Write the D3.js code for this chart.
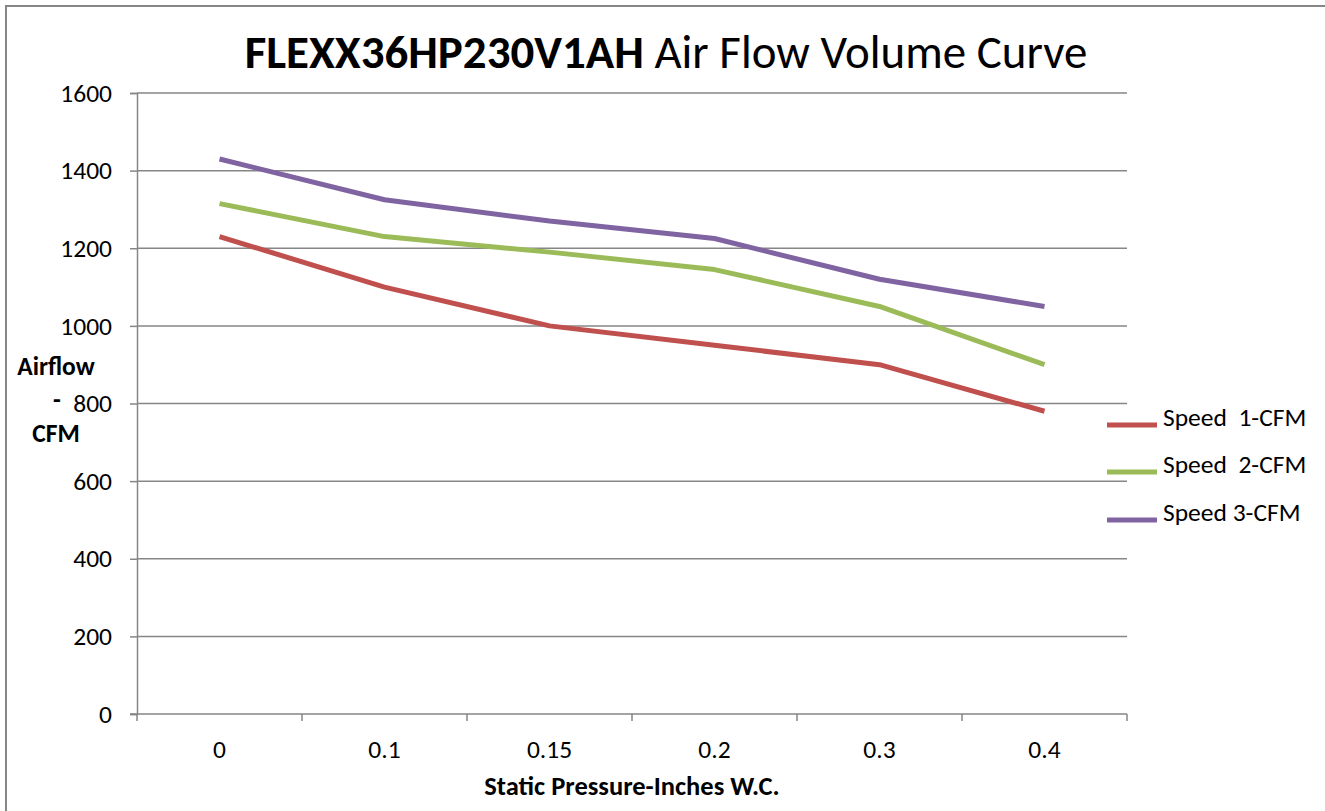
<!DOCTYPE html>
<html><head><meta charset="utf-8">
<script src="https://cdn.jsdelivr.net/npm/d3@7"></script>
<style>body{margin:0;background:#fff}svg{display:block}text{font-family:Calibri,Carlito,"Open Sans",sans-serif}</style>
</head><body><svg id="c" width="1325" height="811"></svg>
<script>
const categories = ["0", "0.1", "0.15", "0.2", "0.3", "0.4"];
const seriesNames = ["Speed  1-CFM", "Speed  2-CFM", "Speed 3-CFM"];
const speed1 = [1230, 1100, 1000, 950, 900, 780];
const speed2 = [1315, 1230, 1190, 1145, 1050, 900];
const speed3 = [1430, 1325, 1270, 1225, 1120, 1050];
const yTicks = [0, 200, 400, 600, 800, 1000, 1200, 1400, 1600];
const colors = ["#C0504D", "#9BBB59", "#8064A2"];

const FONT = "Calibri,Carlito,'Open Sans',sans-serif";
const FS = 25.5;
const svg = d3.select("#c");
const grid = "#868686";
// outer frame
svg.append("path").attr("d","M6,811 V6 H1325").attr("fill","none").attr("stroke",grid).attr("stroke-width",2);

const x = d3.scaleBand().domain(categories).range([137,1127]);
const y = d3.scaleLinear().domain([0,1600]).range([714,93]);

// gridlines
svg.append("g").selectAll("line").data(yTicks.filter(d=>d>0)).join("line")
  .attr("x1",137).attr("x2",1127).attr("y1",d=>y(d)).attr("y2",d=>y(d))
  .attr("stroke",grid).attr("stroke-width",1.5);

// y axis
const ya = svg.append("g").attr("transform","translate(137,0)")
  .call(d3.axisLeft(y).tickValues(yTicks).tickFormat(d3.format("d")).tickSize(7).tickPadding(18));
ya.select(".domain").attr("stroke",grid).attr("stroke-width",1.5);
ya.selectAll(".tick line").attr("stroke",grid).attr("stroke-width",1.5);
ya.selectAll(".tick text").attr("font-size",FS).attr("fill","#000").attr("font-family",FONT);

// x axis
const xa = svg.append("g").attr("transform","translate(0,714)")
  .call(d3.axisBottom(x).tickSize(0).tickPadding(26));
xa.select(".domain").remove();
xa.selectAll(".tick text").attr("font-size",FS).attr("fill","#000").attr("font-family",FONT);
svg.append("line").attr("x1",130).attr("x2",1127).attr("y1",714).attr("y2",714).attr("stroke",grid).attr("stroke-width",1.5);
svg.append("g").selectAll("line").data(categories.concat(["end"])).join("line")
  .attr("x1",(d,i)=>137+i*x.bandwidth()).attr("x2",(d,i)=>137+i*x.bandwidth())
  .attr("y1",714).attr("y2",721).attr("stroke",grid).attr("stroke-width",1.5);

// lines
const series = [speed1, speed2, speed3];
const line = d3.line().x((d,i)=>x(categories[i])+x.bandwidth()/2).y(d=>y(d));
series.forEach((s,k)=>{
  svg.append("path").datum(s).attr("d",line).attr("fill","none")
    .attr("stroke",colors[k]).attr("stroke-width",5).attr("stroke-linejoin","round");
});

// legend
const legY = [425, 472, 520];
seriesNames.forEach((n,k)=>{
  svg.append("line").attr("x1",1107).attr("x2",1157).attr("y1",legY[k]).attr("y2",legY[k])
    .attr("stroke",colors[k]).attr("stroke-width",5);
  svg.append("text").attr("x",1163).attr("y",legY[k]+1)
    .attr("font-size",FS).style("white-space","pre").text(n);
});

// title
const t = svg.append("text").attr("x",666).attr("y",68).attr("text-anchor","middle").attr("font-size",37);
t.append("tspan").attr("font-weight","bold").text("FLEXX36HP230V1AH");
t.append("tspan").text(" Air Flow Volume Curve");
const tw = t.node().getComputedTextLength();
t.attr("font-size", 37*843/tw);

// y axis title
const yl = svg.append("g").attr("font-weight","bold").attr("font-size",FS).attr("text-anchor","middle");
yl.append("text").attr("x",56).attr("y",375).text("Airflow");
yl.append("text").attr("x",57).attr("y",408).text("-");
yl.append("text").attr("x",56).attr("y",442).text("CFM");

// x axis title
svg.append("text").attr("x",632).attr("y",795).attr("text-anchor","middle")
  .attr("font-weight","bold").attr("font-size",26.5).text("Static Pressure-Inches W.C.");
</script></body></html>
